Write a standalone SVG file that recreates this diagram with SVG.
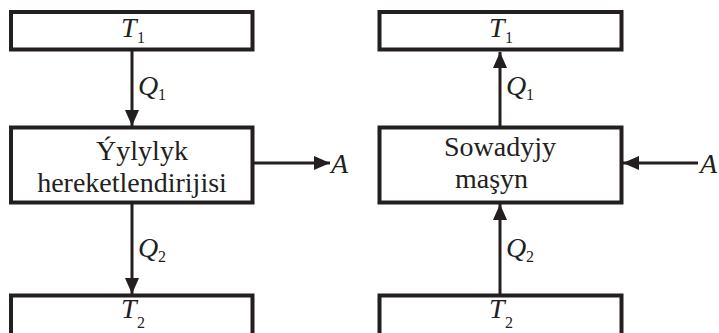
<svg xmlns="http://www.w3.org/2000/svg" width="719" height="333" viewBox="0 0 719 333">
<defs>
<style>
.box{fill:#fff;stroke:#231f20;stroke-width:4}
.ln{fill:none;stroke:#231f20;stroke-width:3;marker-end:url(#ah)}
</style>
<marker id="ah" markerUnits="userSpaceOnUse" markerWidth="16" markerHeight="14" refX="16" refY="7" orient="auto">
<path d="M0,0 L16,7 L0,14 z" fill="#231f20"/>
</marker>
</defs>
<rect width="719" height="333" fill="#fff"/>
<g id="connectors">
<line class="ln" x1="132" y1="51" x2="132" y2="126"/>
<line class="ln" x1="132" y1="204" x2="132" y2="294"/>
<line class="ln" x1="254" y1="163" x2="330" y2="163"/>
<line class="ln" x1="500" y1="126" x2="500" y2="52"/>
<line class="ln" x1="500" y1="294" x2="500" y2="204"/>
<line class="ln" x1="698" y1="163" x2="623" y2="163"/>
</g>
<g id="labels" fill="#231f20" font-family="Liberation Serif">
<text x="138" y="95" font-size="28" font-style="italic">Q</text><text x="158" y="100" font-size="16">1</text>
<text x="138" y="257" font-size="28" font-style="italic">Q</text><text x="158" y="262" font-size="16">2</text>
<text x="331" y="173" font-size="28" font-style="italic">A</text>
<text x="506" y="95" font-size="28" font-style="italic">Q</text><text x="526" y="100" font-size="16">1</text>
<text x="506" y="257" font-size="28" font-style="italic">Q</text><text x="526" y="262" font-size="16">2</text>
<text x="700" y="173" font-size="28" font-style="italic">A</text>
</g>
<g id="left-T1" fill="#231f20" font-family="Liberation Serif">
<rect class="box" x="11" y="12" width="241.5" height="37.5"/>
<text x="121" y="37" font-size="28" font-style="italic">T</text><text x="137" y="43" font-size="16">1</text>
</g>
<g id="left-engine" fill="#231f20" font-family="Liberation Serif">
<rect class="box" x="11" y="127.5" width="241.5" height="75"/>
<text x="142" y="160" font-size="28" text-anchor="middle">&#221;ylylyk</text>
<text x="132" y="192" font-size="28" text-anchor="middle">hereketlendirijisi</text>
</g>
<g id="left-T2" fill="#231f20" font-family="Liberation Serif">
<rect class="box" x="11" y="295.5" width="241.5" height="45"/>
<text x="121" y="318" font-size="28" font-style="italic">T</text><text x="137" y="328" font-size="16">2</text>
</g>
<g id="right-T1" fill="#231f20" font-family="Liberation Serif">
<rect class="box" x="379.5" y="12" width="242" height="37.5"/>
<text x="489" y="37" font-size="28" font-style="italic">T</text><text x="505" y="43" font-size="16">1</text>
</g>
<g id="right-machine" fill="#231f20" font-family="Liberation Serif">
<rect class="box" x="379.5" y="127.5" width="242" height="75"/>
<text x="500" y="156" font-size="28" text-anchor="middle">Sowadyjy</text>
<text x="455" y="188" font-size="28">ma&#351;yn</text>
</g>
<g id="right-T2" fill="#231f20" font-family="Liberation Serif">
<rect class="box" x="379.5" y="295.5" width="242" height="45"/>
<text x="489" y="318" font-size="28" font-style="italic">T</text><text x="505" y="328" font-size="16">2</text>
</g>
</svg>
